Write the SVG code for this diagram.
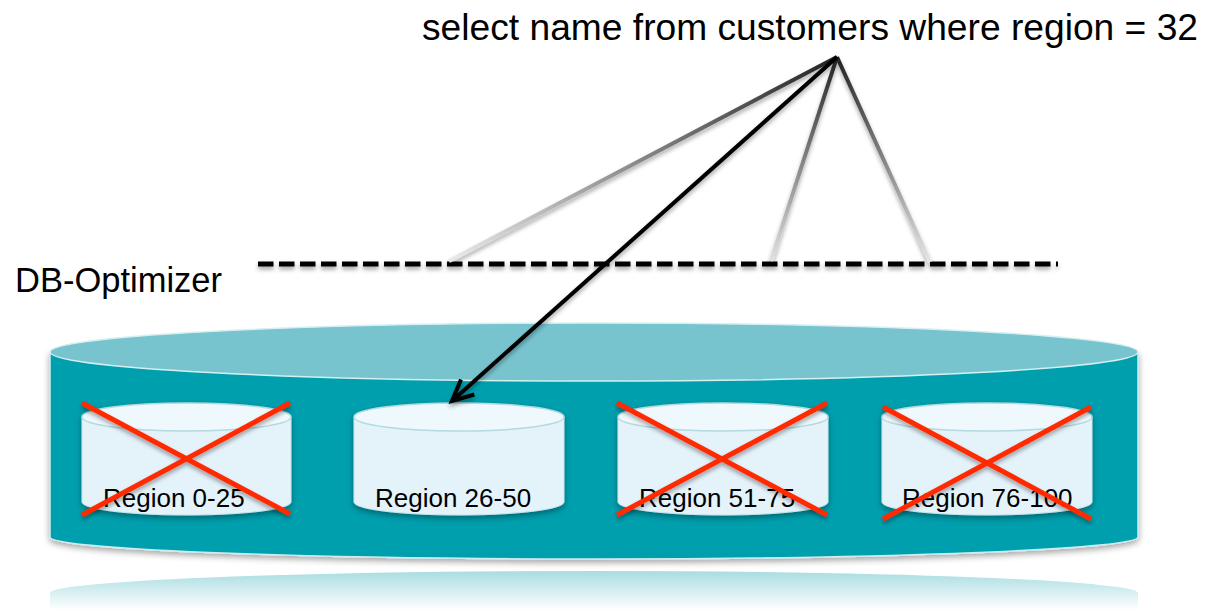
<svg xmlns="http://www.w3.org/2000/svg" width="1207" height="610" viewBox="0 0 1207 610">
  <style>
    .lbl { font-family: "Liberation Sans", Arial, sans-serif; fill: #000; }
    .cross { stroke: #ff2a00; stroke-width: 5; stroke-linecap: butt; }
    .cylBody { fill: #e4f2fa; stroke: #c8e6ec; stroke-width: 1; }
    .cylTop { fill: #eff8fd; stroke: #b3dade; stroke-width: 1.5; }
    .fan { stroke-width: 4; fill: none; }
  </style>
  <defs>
    <filter id="shadow" x="-10%" y="-20%" width="120%" height="160%">
      <feDropShadow dx="0" dy="3" stdDeviation="3" flood-color="#000" flood-opacity="0.35"/>
    </filter>
    <filter id="lineShadow" filterUnits="userSpaceOnUse" x="0" y="0" width="1207" height="610">
      <feDropShadow dx="0" dy="3" stdDeviation="2" flood-color="#000" flood-opacity="0.35"/>
    </filter>
    <linearGradient id="reflect" x1="0" y1="570" x2="0" y2="610" gradientUnits="userSpaceOnUse">
      <stop offset="0" stop-color="#a6dbe1"/>
      <stop offset="1" stop-color="#ffffff"/>
    </linearGradient>
    <linearGradient id="g1" x1="837" y1="57" x2="449" y2="260" gradientUnits="userSpaceOnUse">
      <stop offset="0" stop-color="#222"/>
      <stop offset="1" stop-color="#eaeaea"/>
    </linearGradient>
    <linearGradient id="g2" x1="837" y1="57" x2="771" y2="260" gradientUnits="userSpaceOnUse">
      <stop offset="0" stop-color="#222"/>
      <stop offset="1" stop-color="#e0e0e0"/>
    </linearGradient>
    <linearGradient id="g3" x1="837" y1="57" x2="930" y2="262" gradientUnits="userSpaceOnUse">
      <stop offset="0" stop-color="#222"/>
      <stop offset="1" stop-color="#e6e6e6"/>
    </linearGradient>
    <marker id="openArrow" markerUnits="userSpaceOnUse" markerWidth="30" markerHeight="30" viewBox="-24 -15 30 30" refX="0" refY="0" orient="auto">
      <path d="M -21 -10 L 0 0 L -21 10" fill="none" stroke="#000" stroke-width="4" stroke-linejoin="miter"/>
    </marker>
  </defs>

  <rect width="1207" height="610" fill="#ffffff"/>

  <!-- reflection -->
  <g id="reflection">
    <path d="M50,592 A544,22 0 0 1 1138,592 L1138,610 L50,610 Z" fill="url(#reflect)"/>
    <path d="M50,592 A544,22 0 0 1 1138,592" fill="none" stroke="#ffffff" stroke-width="2"/>
  </g>

  <!-- big database cylinder -->
  <g id="database">
    <path d="M50,352 L50,537 A544,22 0 0 0 1138,537 L1138,352 Z" fill="#009fae" stroke="#cdecef" stroke-width="1.5" filter="url(#shadow)"/>
    <ellipse cx="594" cy="352" rx="544" ry="29" fill="#77c4cf" stroke="#d6f0f2" stroke-width="1.5"/>
  </g>

  <!-- small cylinders -->
  <g id="region-0-25" filter="url(#shadow)">
    <path class="cylBody" d="M82,417 L82,502 A104.5,13 0 0 0 291,502 L291,417 Z"/>
    <ellipse class="cylTop" cx="186.5" cy="417" rx="104.5" ry="14"/>
  </g>
  <g id="region-26-50" filter="url(#shadow)">
    <path class="cylBody" d="M354,417 L354,502 A105,13 0 0 0 564,502 L564,417 Z"/>
    <ellipse class="cylTop" cx="459" cy="417" rx="105" ry="14"/>
  </g>
  <g id="region-51-75" filter="url(#shadow)">
    <path class="cylBody" d="M618,417 L618,502 A105,13 0 0 0 828,502 L828,417 Z"/>
    <ellipse class="cylTop" cx="723" cy="417" rx="105" ry="14"/>
  </g>
  <g id="region-76-100" filter="url(#shadow)">
    <path class="cylBody" d="M882,417 L882,502 A105,13 0 0 0 1092,502 L1092,417 Z"/>
    <ellipse class="cylTop" cx="987" cy="417" rx="105" ry="14"/>
  </g>

  <!-- labels -->
  <g id="labels">
    <text class="lbl" x="422" y="40" font-size="37" textLength="776" lengthAdjust="spacingAndGlyphs">select name from customers where region = 32</text>
    <text class="lbl" x="15" y="292" font-size="34.5" textLength="207" lengthAdjust="spacingAndGlyphs">DB-Optimizer</text>
    <text class="lbl" x="103" y="507" font-size="26">Region 0-25</text>
    <text class="lbl" x="375" y="507" font-size="26">Region 26-50</text>
    <text class="lbl" x="639" y="507" font-size="26">Region 51-75</text>
    <text class="lbl" x="902" y="507" font-size="26">Region 76-100</text>
  </g>

  <!-- red crosses -->
  <g id="crosses" filter="url(#lineShadow)">
    <line class="cross" x1="82" y1="403" x2="290" y2="514"/>
    <line class="cross" x1="82" y1="515" x2="290" y2="403"/>
    <line class="cross" x1="617" y1="403" x2="827" y2="515"/>
    <line class="cross" x1="617" y1="515" x2="827" y2="403"/>
    <line class="cross" x1="883" y1="407" x2="1091" y2="519"/>
    <line class="cross" x1="883" y1="519" x2="1091" y2="407"/>
  </g>

  <!-- connectors -->
  <g id="connectors">
    <g filter="url(#lineShadow)">
      <line x1="258" y1="264" x2="1058" y2="264" stroke="#000" stroke-width="5" stroke-dasharray="15.5 5.5"/>
    </g>
    <g filter="url(#lineShadow)">
      <line class="fan" x1="837" y1="57" x2="449" y2="261" stroke="url(#g1)"/>
      <line class="fan" x1="837" y1="57" x2="771" y2="261" stroke="url(#g2)"/>
      <line class="fan" x1="837" y1="57" x2="930" y2="262" stroke="url(#g3)"/>
      <line x1="837" y1="57" x2="452" y2="401" stroke="#000" stroke-width="4" marker-end="url(#openArrow)"/>
    </g>
  </g>
</svg>
